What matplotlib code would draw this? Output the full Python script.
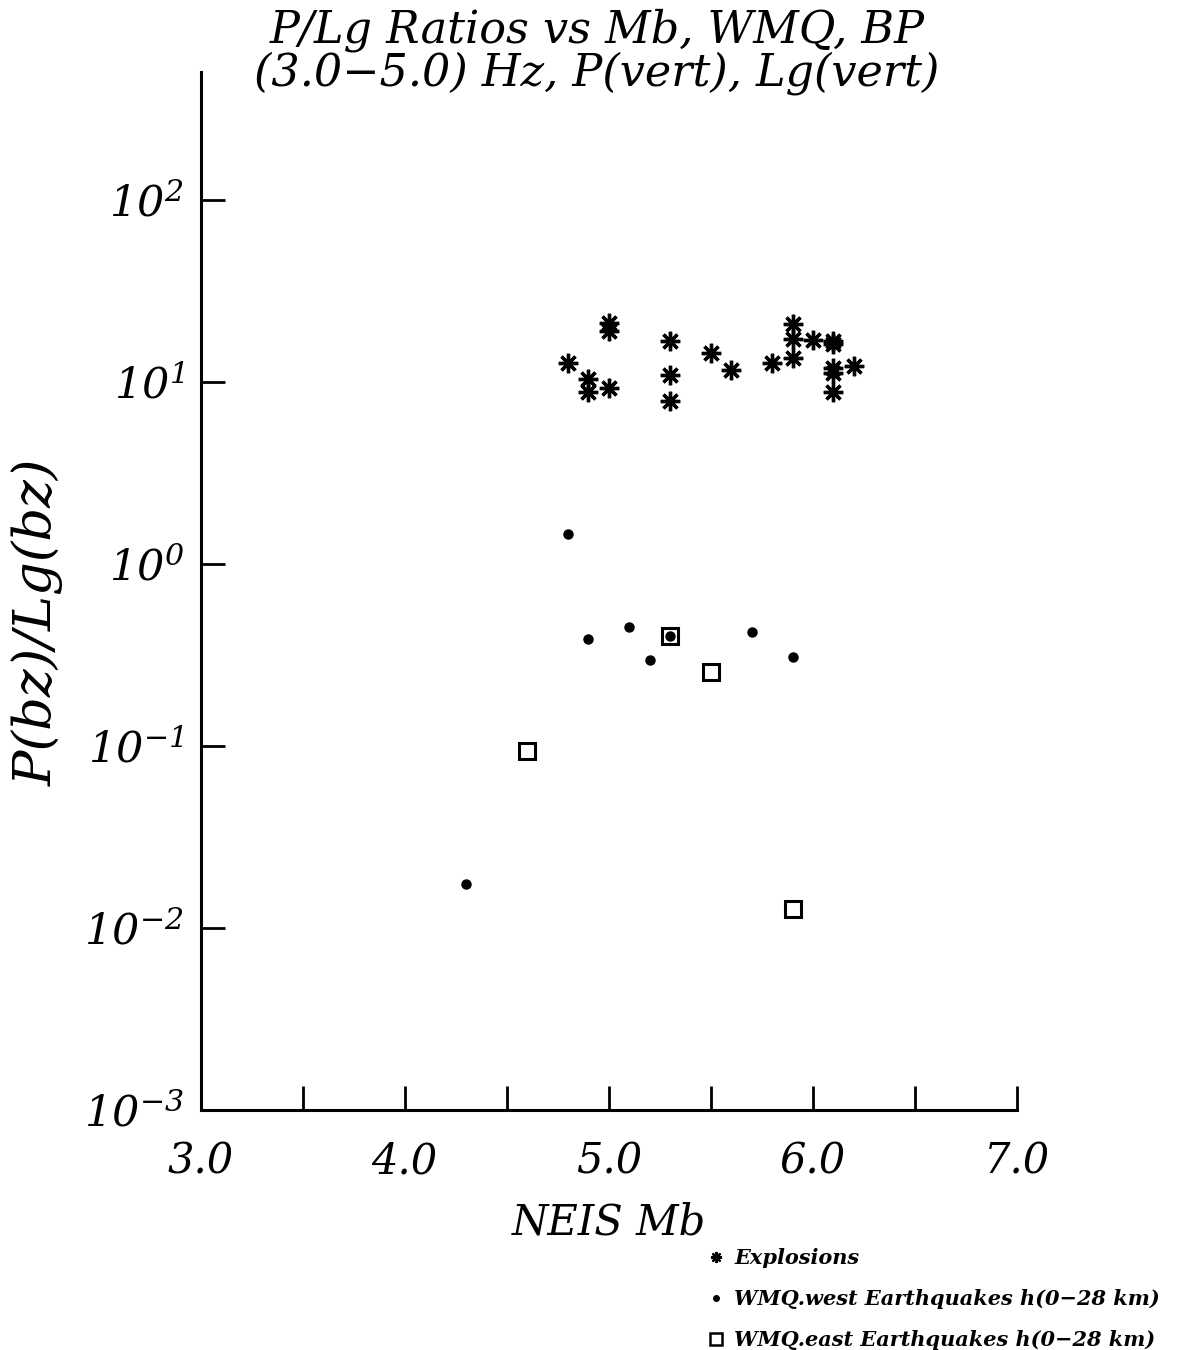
import numpy as np
import matplotlib
matplotlib.use("Agg")
import matplotlib.pyplot as plt
from matplotlib.lines import Line2D

# explosions (NEIS Mb, P/Lg ratio)
expl_mb = [5.0, 5.0, 4.8, 4.9, 4.9, 5.0, 5.3, 5.3, 5.3, 5.5, 5.6, 5.8,
           5.9, 5.9, 5.9, 6.0, 6.1, 6.1, 6.1, 6.1, 6.1, 6.2]
expl_ratio = [21.1, 19.0, 12.6, 10.3, 8.8, 9.2, 16.6, 10.8, 7.8, 14.4, 11.6, 12.6,
              20.6, 17.2, 13.4, 17.0, 16.6, 16.0, 11.9, 11.2, 8.8, 12.1]

# WMQ.west earthquakes
west_mb = [4.8, 4.9, 5.1, 5.2, 5.3, 5.7, 5.9, 4.3]
west_ratio = [1.46, 0.385, 0.449, 0.296, 0.399, 0.422, 0.308, 0.0173]

# WMQ.east earthquakes
east_mb = [5.3, 5.5, 4.6, 5.9]
east_ratio = [0.399, 0.254, 0.093, 0.0127]

xticks_major = [3.0, 4.0, 5.0, 6.0, 7.0]
xticks_minor = [3.5, 4.5, 5.5, 6.5]
yticks = [1e-3, 1e-2, 1e-1, 1e0, 1e1, 1e2]
ytick_labels = [r"$10^{-3}$", r"$10^{-2}$", r"$10^{-1}$", r"$10^{0}$", r"$10^{1}$", r"$10^{2}$"]

plt.rcParams['font.family'] = 'DejaVu Serif'
plt.rcParams['font.style'] = 'italic'
plt.rcParams['mathtext.fontset'] = 'custom'
plt.rcParams['mathtext.rm'] = 'DejaVu Serif:italic'
plt.rcParams['mathtext.it'] = 'DejaVu Serif:italic'

fig = plt.figure(figsize=(11.8, 13.5), dpi=100)
ax = fig.add_axes([0.170, 0.178, 0.692, 0.769])

ax.plot(expl_mb, expl_ratio, linestyle='none', marker=(8, 2, 0), markersize=14,
        markeredgewidth=2.4, color='black')
ax.plot(west_mb, west_ratio, linestyle='none', marker='o', markersize=6.5, color='black')
ax.plot(east_mb, east_ratio, linestyle='none', marker='s', markersize=12,
        markerfacecolor='none', markeredgewidth=2.2, markeredgecolor='black')

ax.set_yscale('log')
ax.set_xlim(3.0, 7.0)
ax.set_ylim(1e-3, 10 ** 2.703)

ax.set_xticks(xticks_major)
ax.set_xticks(xticks_minor, minor=True)
ax.set_xticklabels([f"{v:.1f}" for v in xticks_major], fontsize=30)
ax.set_yticks(yticks)
ax.set_yticklabels(ytick_labels, fontsize=31)
ax.yaxis.set_minor_locator(matplotlib.ticker.NullLocator())
ax.tick_params(axis='both', which='both', direction='in', length=17, width=2)
ax.tick_params(axis='x', which='major', pad=22)
ax.tick_params(axis='y', which='major', pad=12)

for s in ['top', 'right']:
    ax.spines[s].set_visible(False)
for s in ['left', 'bottom']:
    ax.spines[s].set_linewidth(2.2)

ax.set_xlabel("NEIS Mb", fontsize=30, labelpad=14)
ax.set_ylabel("P(bz)/Lg(bz)", fontsize=38)
ax.yaxis.set_label_coords(-0.168, 0.47)

fig.text(0.506, 0.994, "P/Lg Ratios vs Mb, WMQ, BP\n(3.0\u22125.0) Hz, P(vert), Lg(vert)",
         ha='center', va='top', fontsize=32, linespacing=1.0)

handles = [
    Line2D([], [], linestyle='none', marker=(8, 2, 0), markersize=8, markeredgewidth=1.6, color='black'),
    Line2D([], [], linestyle='none', marker='o', markersize=4, color='black'),
    Line2D([], [], linestyle='none', marker='s', markersize=9, markerfacecolor='none',
           markeredgewidth=1.8, markeredgecolor='black'),
]
labels = ["Explosions", "WMQ.west Earthquakes h(0\u221228 km)", "WMQ.east Earthquakes h(0\u221228 km)"]
fig.legend(handles, labels, loc='lower left', bbox_to_anchor=(0.600, 0.0), frameon=False,
           borderpad=0.0, borderaxespad=0.0,
           handlelength=0.8, handletextpad=0.45, labelspacing=1.0,
           prop={'family': 'DejaVu Serif', 'style': 'italic', 'weight': 'bold', 'size': 15})

fig.savefig("out.png", dpi=100)
